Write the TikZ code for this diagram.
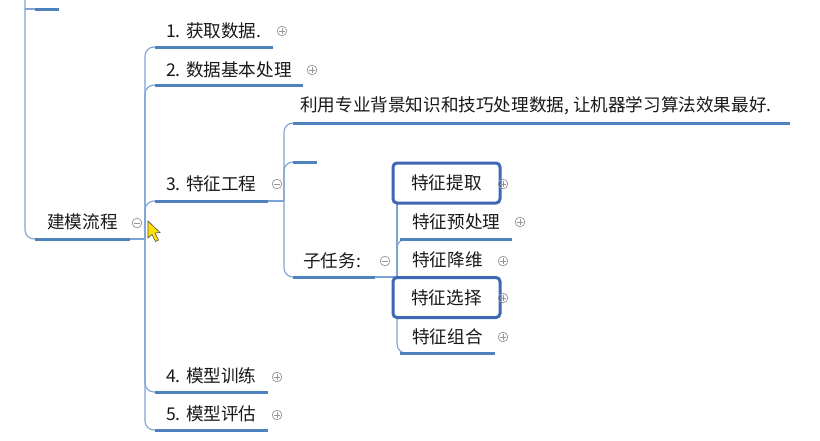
\documentclass[tikz,border=0pt]{standalone}
\usepackage{fontspec}
\newfontfamily\cjk{Noto Sans CJK SC}
\definecolor{blu}{RGB}{79,129,189}
\definecolor{lblu}{RGB}{125,163,212}
\definecolor{boxb}{RGB}{62,104,180}
\definecolor{gry}{RGB}{150,150,150}
\definecolor{txt}{RGB}{25,25,25}
\tikzset{
  lbl/.style={font=\cjk\fontsize{17.6}{20}\selectfont, text=txt, inner sep=0pt, anchor=west},
  uline/.style={line width=3pt, draw=blu},
  conn/.style={line width=1.1pt, draw=lblu, rounded corners=9pt},
  thin/.style={line width=1.1pt, draw=lblu},
  hbox/.style={draw=boxb, line width=3pt, rounded corners=4pt, fill=white, minimum width=107pt, minimum height=40pt, inner sep=0pt, font=\cjk\fontsize{17.6}{20}\selectfont, text=txt},
  plusicon/.pic={\draw[gry,line width=0.7pt] (0,0) circle (4.8);
                 \draw[gry,line width=0.7pt] (-2.6,0)--(2.6,0) (0,-2.6)--(0,2.6);},
  minusicon/.pic={\draw[gry,line width=0.7pt] (0,0) circle (4.8);
                 \draw[gry,line width=0.7pt] (-2.6,0)--(2.6,0);}
}
\begin{document}
\begin{tikzpicture}[x=1pt,y=-1pt]
\useasboundingbox (0,0) rectangle (820,440);
\fill[white] (0,0) rectangle (820,440);

% ---------- coordinates ----------
\coordinate (ltop) at (25,0);
\coordinate (l0s) at (35,9);   \coordinate (l0e) at (59,9);
\coordinate (rs) at (35,239);  \coordinate (re) at (130,239);
\coordinate (j1) at (145,239);
\coordinate (u1s) at (155,47);  \coordinate (u1e) at (273,47);
\coordinate (u2s) at (155,85);  \coordinate (u2e) at (303,85);
\coordinate (u3s) at (155,201); \coordinate (u3e) at (268,201);
\coordinate (u4s) at (155,392); \coordinate (u4e) at (268,392);
\coordinate (u5s) at (155,430); \coordinate (u5e) at (268,430);
\coordinate (j2) at (284,201);
\coordinate (v1s) at (293,123); \coordinate (v1e) at (790,123);
\coordinate (v2s) at (293,162); \coordinate (v2e) at (317,162);
\coordinate (v3s) at (293,277); \coordinate (v3e) at (375,277);
\coordinate (j3) at (397,277);
\coordinate (w2s) at (400,239); \coordinate (w2e) at (512,239);
\coordinate (w3s) at (400,277); \coordinate (w3e) at (490,277);
\coordinate (w5s) at (400,353); \coordinate (w5e) at (495,353);

% ---------- connectors ----------
\draw[conn] (ltop) |- (rs);
\draw[thin] (ltop |- l0s) -- (l0s);
\draw[thin] (re) -- (j1);
\foreach \c in {u1s,u2s,u3s,u4s,u5s} \draw[conn] (j1) |- (\c);
\draw[thin] (u3e) -- (j2);
\foreach \c in {v1s,v2s,v3s} \draw[conn] (j2) |- (\c);
\draw[thin] (v3e) -- (j3);
\draw[conn] (j3) |- (w2s);
\draw[conn] (j3) |- (w5s);
\draw[thin] (j3) -- (397,203);

% ---------- underlines ----------
\draw[uline] (l0s) -- (l0e);
\draw[uline] (rs) -- (re);
\draw[uline] (u1s) -- (u1e);
\draw[uline] (u2s) -- (u2e);
\draw[uline] (u3s) -- (u3e);
\draw[uline] (u4s) -- (u4e);
\draw[uline] (u5s) -- (u5e);
\draw[uline] (v1s) -- (v1e);
\draw[uline] (v2s) -- (v2e);
\draw[uline] (v3s) -- (v3e);
\draw[uline] (w2s) -- (w2e);
\draw[uline] (w3s) -- (w3e);
\draw[uline] (w5s) -- (w5e);

% ---------- texts ----------
\node[lbl] (root) at (47,222) {建模流程};
\node[lbl] (n1) at (166,31) {1. 获取数据.};
\node[lbl] (n2) at (166,70) {2. 数据基本处理};
\node[lbl] (n3) at (166,184) {3. 特征工程};
\node[lbl] (n4) at (166,376) {4. 模型训练};
\node[lbl] (n5) at (166,414) {5. 模型评估};
\node[lbl] (m1) at (300,106) {利用专业背景知识和技巧处理数据, 让机器学习算法效果最好.};
\node[lbl] (m3) at (303,261) {子任务:};
\node[hbox] (k1) at (446.5,183) {特征提取};
\node[lbl] (k2) at (412,222) {特征预处理};
\node[lbl] (k3) at (412,260) {特征降维};
\node[hbox] (k4) at (446.5,297.5) {特征选择};
\node[lbl] (k5) at (412,337) {特征组合};

% ---------- toggle icons ----------
\pic at (137,223) {minusicon};
\pic at (282,31) {plusicon};
\pic at (312,70) {plusicon};
\pic at (277,184) {minusicon};
\pic at (277,377) {plusicon};
\pic at (277,415) {plusicon};
\pic at (385,261) {minusicon};
\pic at (503,184) {plusicon};
\pic at (520,222) {plusicon};
\pic at (503,261) {plusicon};
\pic at (503,298) {plusicon};
\pic at (503,337) {plusicon};

% ---------- mouse cursor ----------
\filldraw[fill=yellow!85!orange, draw=black!70, line width=0.6pt]
  (148,221) -- (148,238) -- (152,234.5) -- (155.5,241.5) -- (158.5,240) -- (155,233) -- (160,232.5) -- cycle;
\end{tikzpicture}
\end{document}
